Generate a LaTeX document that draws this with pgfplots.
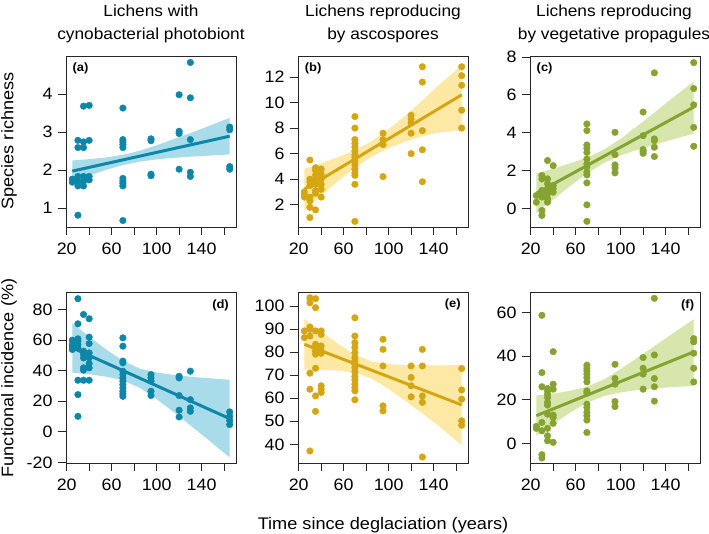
\documentclass[border=0pt]{standalone}
\usepackage{fontspec}
\setmainfont{Liberation Sans}[FakeStretch=1.08]
\usepackage{pgfplots}
\pgfplotsset{compat=1.18}

\definecolor{cblue}{HTML}{0E86A8}
\definecolor{cblueband}{HTML}{A9DCEA}
\definecolor{cgold}{HTML}{D4A613}
\definecolor{cgoldband}{HTML}{FDE9A3}
\definecolor{cgreen}{HTML}{86A332}
\definecolor{cgreenband}{HTML}{D6E6AC}

\pgfplotsset{
  panel/.style={
    scale only axis, width=170pt, height=171pt, anchor=south west,
    xmin=19.4, xmax=170.6,
    xtick={20,40,...,160}, xticklabels={20,,60,,100,,140,},
    tick align=outside, major tick length=8pt,
    xtick pos=bottom, ytick pos=left,
    tick style={black!85, line width=0.8pt},
    axis line style={black!85, line width=0.9pt},
    ticklabel style={font=\fontsize{16.5}{18}\selectfont},
    xticklabel style={yshift=-4pt},
    yticklabel style={xshift=-2pt},
    /pgf/number format/assume math mode=true,
  },
  band/.style={draw=none, fill=#1},
  pts/.style={only marks, mark=*, mark size=3.3pt, color=#1},
  fit/.style={line width=3pt, color=#1},
}
\newcommand{\plab}{\fontsize{12}{14}\selectfont\bfseries}
\newcommand{\bigfont}{\fontsize{16.8}{20}\selectfont}
\newcommand{\ttlfont}{\fontsize{16}{19}\selectfont}

\begin{document}
\begin{tikzpicture}
\path[use as bounding box] (0,0) rectangle (709pt,534pt);

% ---- top row ----
\begin{axis}[panel, at={(66pt,307pt)}, ymin=0.5, ymax=5.0, ytick={1,2,3,4}]
  \addplot[band=cblueband] coordinates {
    (25,2.25)(40,2.285)(55,2.33)(70,2.40)(85,2.505)(100,2.65)(115,2.81)(130,2.97)(145,3.14)(165,3.37)
    (165,2.41)(145,2.375)(130,2.35)(115,2.32)(100,2.28)(85,2.22)(70,2.13)(55,2.005)(40,1.85)(25,1.69)};
  \addplot[pts=cblue] coordinates {
    (25,1.76)(25,1.68)
    (30,2.78)(30,2.59)(30,1.83)(30,1.70)(30,1.58)(30,0.81)
    (35,3.68)(35,2.74)(35,2.59)(35,1.83)(35,1.70)(35,1.58)
    (40,3.70)(40,2.78)(40,1.83)(40,1.74)
    (70,3.63)(70,2.80)(70,2.74)(70,2.67)(70,2.59)(70,1.78)(70,1.71)(70,1.65)(70,1.58)(70,0.67)
    (95,2.82)(95,2.77)(95,1.89)(95,1.85)
    (120,3.98)(120,3.02)(120,2.96)(120,2.02)
    (130,4.83)(130,3.90)(130,2.80)(130,1.94)(130,1.83)
    (165,3.13)(165,3.06)(165,2.09)(165,2.02)};
  \addplot[fit=cblue] coordinates {(25,1.97)(165,2.89)};
  \node[font=\plab] at (rel axis cs:0.085,0.925) {(a)};
\end{axis}

\begin{axis}[panel, at={(298pt,307pt)}, ymin=0.26, ymax=13.64, ytick={2,4,...,12}]
  \addplot[band=cgoldband] coordinates {
    (25,4.81)(40,5.25)(55,5.73)(70,6.27)(85,6.97)(100,7.91)(115,8.98)(130,10.15)(145,11.4)(165,12.9)
    (165,7.85)(145,7.65)(130,7.35)(115,6.94)(100,6.43)(85,5.77)(70,4.89)(55,3.85)(40,2.73)(25,1.45)};
  \addplot[pts=cgold] coordinates {
    (25,3.0)(25,2.8)(25,2.6)
    (30,5.5)(30,4.0)(30,3.8)(30,3.5)(30,2.6)(30,2.3)(30,1.8)(30,1.0)
    (35,4.9)(35,4.7)(35,4.3)(35,3.9)(35,3.6)(35,3.1)(35,2.9)(35,1.6)
    (40,4.8)(40,4.4)(40,4.0)(40,3.6)(40,3.2)(40,2.6)
    (70,8.9)(70,8.0)(70,7.1)(70,6.8)(70,6.5)(70,6.2)(70,5.9)(70,5.7)(70,5.4)(70,5.1)(70,4.8)(70,4.5)(70,4.3)(70,3.6)(70,0.7)
    (95,7.6)(95,7.1)(95,6.7)(95,4.2)
    (120,9.0)(120,8.7)(120,8.4)(120,7.6)(120,6.0)
    (130,12.8)(130,11.6)(130,7.8)(130,6.3)(130,3.8)
    (165,12.8)(165,12.1)(165,11.35)(165,9.4)(165,8.0)};
  \addplot[fit=cgold] coordinates {(25,3.2)(165,10.6)};
  \node[font=\plab] at (rel axis cs:0.089,0.925) {(b)};
\end{axis}

\begin{axis}[panel, at={(530pt,307pt)}, ymin=-0.98, ymax=8.05, ytick={0,2,4,6,8}]
  \addplot[band=cgreenband] coordinates {
    (25,1.85)(40,2.10)(55,2.38)(70,2.68)(85,3.10)(100,3.68)(115,4.36)(130,5.06)(145,5.78)(165,6.70)
    (165,3.95)(145,3.62)(130,3.36)(115,3.10)(100,2.80)(85,2.40)(70,1.84)(55,1.18)(40,0.47)(25,-0.25)};
  \addplot[pts=cgreen] coordinates {
    (25,0.68)(25,0.33)
    (30,1.74)(30,1.56)(30,0.95)(30,0.81)(30,0.60)(30,-0.11)(30,-0.37)
    (35,2.53)(35,1.56)(35,1.30)(35,1.04)(35,0.77)(35,0.51)(35,0.33)
    (40,2.26)(40,1.21)(40,1.04)(40,0.86)
    (70,4.46)(70,4.11)(70,3.35)(70,3.18)(70,2.96)(70,2.61)(70,2.35)(70,2.18)(70,1.91)(70,1.77)(70,1.35)(70,0.19)(70,-0.68)
    (95,4.02)(95,2.84)(95,2.30)(95,2.14)(95,1.88)
    (120,5.09)(120,3.84)(120,3.11)(120,3.00)(120,2.91)
    (130,7.16)(130,3.67)(130,3.58)(130,3.23)(130,2.74)
    (165,7.70)(165,6.33)(165,5.47)(165,4.28)(165,3.28)};
  \addplot[fit=cgreen] coordinates {(25,0.80)(165,5.35)};
  \node[font=\plab] at (rel axis cs:0.086,0.925) {(c)};
\end{axis}

% ---- bottom row ----
\begin{axis}[panel, at={(66pt,71pt)}, ymin=-20.4, ymax=91.4, ytick={-20,0,...,80}]
  \addplot[band=cblueband] coordinates {
    (25,71.1)(40,62.2)(55,53.9)(70,46.4)(85,41.3)(100,38.8)(115,37.2)(130,36.0)(145,35.1)(165,34.0)
    (165,-16.8)(145,-4.7)(130,4.2)(115,13.0)(100,21.4)(85,28.7)(70,33.6)(55,36.1)(40,37.6)(25,38.7)};
  \addplot[pts=cblue] coordinates {
    (25,59.9)(25,57.1)(25,55.5)(25,53.8)
    (30,87.0)(30,70.6)(30,60.8)(30,59.3)(30,57.1)(30,54.9)(30,33.7)(30,24.3)(30,10.1)
    (35,76.7)(35,52.7)(35,50.5)(35,48.3)(35,41.8)(35,40.3)(35,33.7)
    (40,73.9)(40,61.9)(40,57.7)(40,51.6)(40,48.3)(40,44.6)(40,41.8)(40,33.7)
    (70,61.4)(70,56.0)(70,46.2)(70,45.1)(70,39.6)(70,37.4)(70,35.2)(70,33.1)(70,30.9)(70,28.7)(70,26.5)(70,24.8)(70,23.2)
    (95,37.4)(95,35.2)(95,33.1)(95,26.5)(95,23.7)
    (120,36.3)(120,35.2)(120,23.7)(120,14.1)(120,9.7)
    (130,39.6)(130,21.0)(130,15.6)(130,13.4)
    (165,13.0)(165,10.1)(165,7.3)(165,4.7)};
  \addplot[fit=cblue] coordinates {(25,54.9)(165,8.6)};
  \node[font=\plab] at (rel axis cs:0.909,0.922) {(d)};
\end{axis}

\begin{axis}[panel, at={(298pt,71pt)}, ymin=31.9, ymax=106.1, ytick={40,50,...,100}]
  \addplot[band=cgoldband] coordinates {
    (25,94.4)(40,88.9)(55,83.6)(70,78.9)(85,75.9)(100,74.8)(115,74.4)(130,74.3)(145,74.2)(165,74.5)
    (165,39.6)(145,47.8)(130,53.4)(115,58.8)(100,64.1)(85,68.5)(70,71.1)(55,72.0)(40,72.3)(25,72.4)};
  \addplot[pts=cgold] coordinates {
    (25,89.2)(25,86.3)
    (30,103.6)(30,101.4)(30,90.9)(30,89.9)(30,87.0)(30,70.9)(30,63.9)(30,37.1)
    (35,103.2)(35,99.3)(35,89.2)(35,83.4)(35,82.0)(35,80.5)(35,79.1)(35,73.0)(35,61.0)(35,54.3)
    (40,89.2)(40,87.7)(40,82.7)(40,80.5)(40,79.5)(40,65.4)(40,63.9)(40,62.5)
    (70,94.9)(70,87.0)(70,84.1)(70,82.0)(70,79.8)(70,77.6)(70,76.2)(70,74.7)(70,73.3)(70,71.4)(70,69.4)(70,68.0)(70,66.1)(70,64.6)(70,63.2)(70,59.3)
    (95,85.6)(95,81.2)(95,74.0)(95,56.7)(95,54.5)
    (120,74.0)(120,69.0)(120,65.4)(120,60.6)
    (130,81.2)(130,74.0)(130,61.0)(130,58.2)(130,34.5)
    (165,72.9)(165,63.6)(165,59.6)(165,50.2)(165,48.3)};
  \addplot[fit=cgold] coordinates {(25,83.4)(165,57.1)};
  \node[font=\plab] at (rel axis cs:0.91,0.927) {(e)};
\end{axis}

\begin{axis}[panel, at={(530pt,71pt)}, ymin=-9.0, ymax=69.5, ytick={0,20,40,60}]
  \addplot[band=cgreenband] coordinates {
    (25,22.0)(40,22.9)(55,24.1)(70,26.0)(85,29.3)(100,34.1)(115,39.4)(130,44.6)(145,50.0)(165,57.0)
    (165,26.4)(145,25.8)(130,25.3)(115,24.5)(100,23.4)(85,21.7)(70,18.7)(55,14.1)(40,8.9)(25,3.4)};
  \addplot[pts=cgreen] coordinates {
    (25,7.8)(25,6.9)
    (30,58.8)(30,32.5)(30,26.0)(30,9.6)(30,5.8)(30,-5.2)(30,-6.7)
    (35,25.2)(35,24.1)(35,22.6)(35,21.1)(35,18.8)(35,17.6)(35,13.4)(35,6.9)(35,3.5)(35,1.2)
    (40,42.1)(40,27.2)(40,24.9)(40,13.0)(40,11.9)(40,9.2)(40,0.5)
    (70,35.9)(70,34.5)(70,33.3)(70,31.8)(70,30.2)(70,28.2)(70,24.1)(70,23.1)(70,18.0)(70,16.5)(70,14.2)(70,12.7)(70,10.7)(70,5.0)
    (95,36.3)(95,29.8)(95,27.2)(95,19.2)(95,16.9)
    (120,39.4)(120,34.5)(120,31.8)(120,24.9)
    (130,66.6)(130,40.6)(130,29.8)(130,26.0)(130,19.4)
    (165,48.1)(165,46.6)(165,41.4)(165,34.5)(165,28.2)};
  \addplot[fit=cgreen] coordinates {(25,12.7)(165,42.0)};
  \node[font=\plab] at (rel axis cs:0.927,0.922) {(f)};
\end{axis}

% ---- titles and labels ----
\node[font=\ttlfont, anchor=base] at (151pt,517pt) {Lichens with};
\node[font=\ttlfont, anchor=base] at (151pt,494pt) {cynobacterial photobiont};
\node[font=\ttlfont, anchor=base] at (383pt,517pt) {Lichens reproducing};
\node[font=\ttlfont, anchor=base] at (383pt,494pt) {by ascospores};
\node[font=\ttlfont, anchor=base] at (614pt,517pt) {Lichens reproducing};
\node[font=\ttlfont, anchor=base] at (614pt,494pt) {by vegetative propagules};
\node[font=\bigfont, rotate=90, inner sep=0pt] at (9pt,393pt) {Species richness};
\node[font=\bigfont, rotate=90, inner sep=0pt] at (9pt,156pt) {Functional incidence (\%)};
\node[font=\bigfont, anchor=base] at (383pt,4pt) {Time since deglaciation (years)};
\end{tikzpicture}
\end{document}
